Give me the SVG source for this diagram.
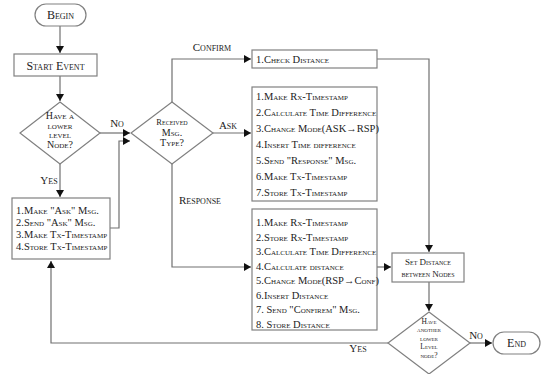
<svg xmlns="http://www.w3.org/2000/svg" width="542" height="374" viewBox="0 0 542 374">
<defs>
<marker id="ah" markerWidth="8" markerHeight="8" refX="7" refY="4" orient="auto" markerUnits="userSpaceOnUse">
<path d="M0,0 L7,4 L0,8 Z" fill="#111"/>
</marker>
<style>
.shape{fill:#fff;stroke:#808080;stroke-width:1.2}
.line{fill:none;stroke:#707070;stroke-width:1.2}
.arr{fill:none;stroke:#707070;stroke-width:1.2;marker-end:url(#ah)}
text{font-family:"Liberation Serif","DejaVu Serif",serif;font-variant:small-caps;fill:#222}
.t12{font-size:12px}
.t11{font-size:11px}
.t105{font-size:10.5px}
.t10{font-size:10px}
.t9{font-size:9px}
.t85{font-size:8.5px}
.t75{font-size:7.5px}
.c{text-anchor:middle}
</style>
</defs>
<g id="connectors">
<path class="arr" d="M60,26 L60,53"/>
<path class="arr" d="M60,76 L60,101"/>
<path class="arr" d="M100,133 L130,133"/>
<path class="arr" d="M110,228 L119,228 L119,141 L130,141"/>
<path class="arr" d="M60,163 L60,197"/>
<path class="arr" d="M172,102 L172,59 L251,59"/>
<path class="arr" d="M213,133 L251,133"/>
<path class="arr" d="M172,163 L172,267 L251,267"/>
<path class="arr" d="M377,59 L429,59 L429,252"/>
<path class="arr" d="M377,267 L391,267"/>
<path class="arr" d="M429,282 L429,311"/>
<path class="arr" d="M470,343 L492,343"/>
<path class="arr" d="M388,343 L51,343 L51,261"/>
<text class="t11" x="117" y="127" text-anchor="middle">No</text>
<text class="t11" x="49" y="184" text-anchor="middle">Yes</text>
<text class="t11" x="212" y="51" text-anchor="middle">Confirm</text>
<text class="t11" x="228" y="129" text-anchor="middle">Ask</text>
<text class="t11" x="200" y="204" text-anchor="middle">Response</text>
<text class="t11" x="476" y="339" text-anchor="middle">No</text>
<text class="t11" x="358" y="352" text-anchor="middle">Yes</text>
</g>
<g id="begin">
<rect class="shape" x="35" y="4" width="51" height="22" rx="11"/>
<text class="t12 c" x="60.5" y="19">Begin</text>
</g>
<g id="start-event">
<rect class="shape" x="14" y="54" width="83" height="22"/>
<text class="t12 c" x="55.5" y="69.5">Start Event</text>
</g>
<g id="lower-node">
<polygon class="shape" points="60,102 100,133 60,164 20,133"/>
<text class="t10 c" x="60" y="119">Have a</text>
<text class="t10 c" x="60" y="128.5">lower</text>
<text class="t10 c" x="60" y="138">level</text>
<text class="t10 c" x="60" y="147.5">Node?</text>
</g>
<g id="ask-send">
<rect class="shape" x="12" y="198" width="98" height="61"/>
<text class="t105" x="16" y="214">1.Make "Ask" Msg.</text>
<text class="t105" x="16" y="226">2.Send "Ask" Msg.</text>
<text class="t105" x="16" y="238">3.Make Tx-Timestamp</text>
<text class="t105" x="16" y="250">4.Store Tx-Timestamp</text>
</g>
<g id="msg-type">
<polygon class="shape" points="172,102 213,133 172,164 131,133"/>
<text class="t85 c" x="172" y="125">Received</text>
<text class="t10 c" x="172" y="136">Msg.</text>
<text class="t10 c" x="172" y="146">Type?</text>
</g>
<g id="confirm-box">
<rect class="shape" x="252" y="50" width="125" height="18"/>
<text class="t105" x="256" y="63">1.Check Distance</text>
</g>
<g id="ask-box">
<rect class="shape" x="252" y="87" width="125" height="114"/>
<text class="t105" x="256" y="100">1.Make Rx-Timestamp</text>
<text class="t105" x="256" y="116">2.Calculate Time Difference</text>
<text class="t105" x="256" y="132">3.Change Mode(ASK→RSP)</text>
<text class="t105" x="256" y="148">4.Insert Time difference</text>
<text class="t105" x="256" y="164">5.Send "Response" Msg.</text>
<text class="t105" x="256" y="180">6.Make Tx-Timestamp</text>
<text class="t105" x="256" y="196">7.Store Tx-Timestamp</text>
</g>
<g id="response-box">
<rect class="shape" x="252" y="209" width="125" height="121"/>
<text class="t105" x="256" y="226">1.Make Rx-Timestamp</text>
<text class="t105" x="256" y="240.5">2.Store Rx-Timestamp</text>
<text class="t105" x="256" y="255">3.Calculate Time Difference</text>
<text class="t105" x="256" y="269.5">4.Calculate distance</text>
<text class="t105" x="256" y="284">5.Change Mode(RSP→Conf)</text>
<text class="t105" x="256" y="298.5">6.Insert Distance</text>
<text class="t105" x="256" y="313">7. Send "Confirem" Msg.</text>
<text class="t105" x="256" y="327.5">8. Store Distance</text>
</g>
<g id="set-distance">
<rect class="shape" x="392" y="253" width="72" height="29"/>
<text class="t9 c" x="428" y="265">Set Distance</text>
<text class="t9 c" x="428" y="277">between Nodes</text>
</g>
<g id="another-node">
<polygon class="shape" points="429,312 470,343 429,374 388,343"/>
<text class="t75 c" x="429" y="323.5">Have</text>
<text class="t75 c" x="429" y="332">another</text>
<text class="t75 c" x="429" y="340.5">lower</text>
<text class="t75 c" x="429" y="349">Level</text>
<text class="t75 c" x="429" y="357.5">node?</text>
</g>
<g id="end">
<rect class="shape" x="493" y="332" width="47" height="22" rx="11"/>
<text class="t12 c" x="516.5" y="347">End</text>
</g>
</svg>
